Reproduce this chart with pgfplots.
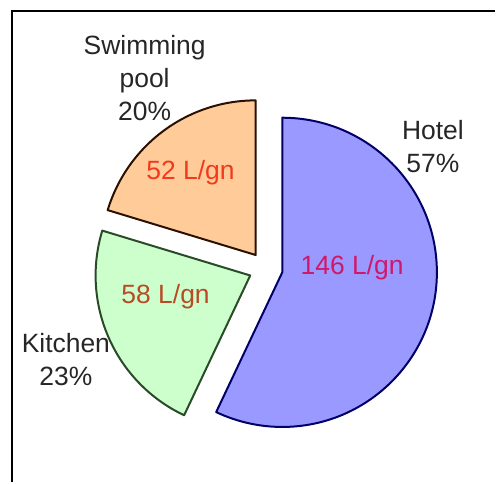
\documentclass[border=0pt]{standalone}
\usepackage{pgfplots}
\pgfplotsset{compat=1.18}
\usepackage{fontspec}
\setmainfont{Liberation Sans}
\definecolor{hotelfill}{HTML}{9999FF}
\definecolor{hoteldraw}{HTML}{000066}
\definecolor{kitchenfill}{HTML}{CCFFCC}
\definecolor{kitchendraw}{HTML}{2A4A2A}
\definecolor{poolfill}{HTML}{FFCC99}
\definecolor{pooldraw}{HTML}{2A1000}
\definecolor{hoteltext}{HTML}{D0186A}
\definecolor{kitchentext}{HTML}{B84A26}
\definecolor{pooltext}{HTML}{F03A1E}
\begin{document}
\begin{tikzpicture}
% data (L/gn)
\def\vHotel{146}
\def\vKitchen{58}
\def\vPool{52}
\pgfmathsetmacro{\tot}{\vHotel+\vKitchen+\vPool}
\def\cx{266.4}\def\cy{213.7}\def\R{155}\def\ex{17}
\pgfmathsetmacro{\aA}{90}
\pgfmathsetmacro{\aB}{90-360*(\vHotel/\tot)}
\pgfmathsetmacro{\aC}{\aB-360*(\vKitchen/\tot)}
\pgfmathsetmacro{\aD}{\aC-360*(\vPool/\tot)}
\pgfmathsetmacro{\hx}{\cx+\ex*cos((\aA+\aB)/2)}
\pgfmathsetmacro{\hy}{\cy+\ex*sin((\aA+\aB)/2)}
\pgfmathsetmacro{\kx}{\cx+\ex*cos((\aB+\aC)/2)}
\pgfmathsetmacro{\ky}{\cy+\ex*sin((\aB+\aC)/2)}
\pgfmathsetmacro{\px}{\cx+\ex*cos((\aC+\aD)/2)}
\pgfmathsetmacro{\py}{\cy+\ex*sin((\aC+\aD)/2)}
\begin{axis}[hide axis, x=1pt, y=1pt, xmin=0, xmax=496, ymin=0, ymax=483, clip=false]
\filldraw[fill=hotelfill, draw=hoteldraw, line width=2pt, line join=round]
  (axis cs:\hx,\hy) -- ++(\aA:\R pt) arc[start angle=\aA, end angle=\aB, radius=\R pt] -- cycle;
\filldraw[fill=kitchenfill, draw=kitchendraw, line width=2pt, line join=round]
  (axis cs:\kx,\ky) -- ++(\aB:\R pt) arc[start angle=\aB, end angle=\aC, radius=\R pt] -- cycle;
\filldraw[fill=poolfill, draw=pooldraw, line width=2pt, line join=round]
  (axis cs:\px,\py) -- ++(\aC:\R pt) arc[start angle=\aC, end angle=\aD, radius=\R pt] -- cycle;
\draw[line width=2.5pt, black] (axis cs:12,0) -- (axis cs:12,472) -- (axis cs:496,472);
\tikzset{lab/.style={align=center, font=\fontsize{26.5}{33}\selectfont, text=black!85, inner sep=0pt}}
\node[lab] at (axis cs:145,405) {Swimming\\pool\\20\%};
\node[lab] at (axis cs:434,336.5) {Hotel\\57\%};
\node[lab] at (axis cs:66,123) {Kitchen\\23\%};
\node[lab, text=pooltext] at (axis cs:191,310) {\vPool{} L/gn};
\node[lab, text=kitchentext] at (axis cs:166,186) {\vKitchen{} L/gn};
\node[lab, text=hoteltext] at (axis cs:353,215) {\vHotel{} L/gn};
\end{axis}
\path (0,0) rectangle (496pt,483pt);
\end{tikzpicture}
\end{document}
